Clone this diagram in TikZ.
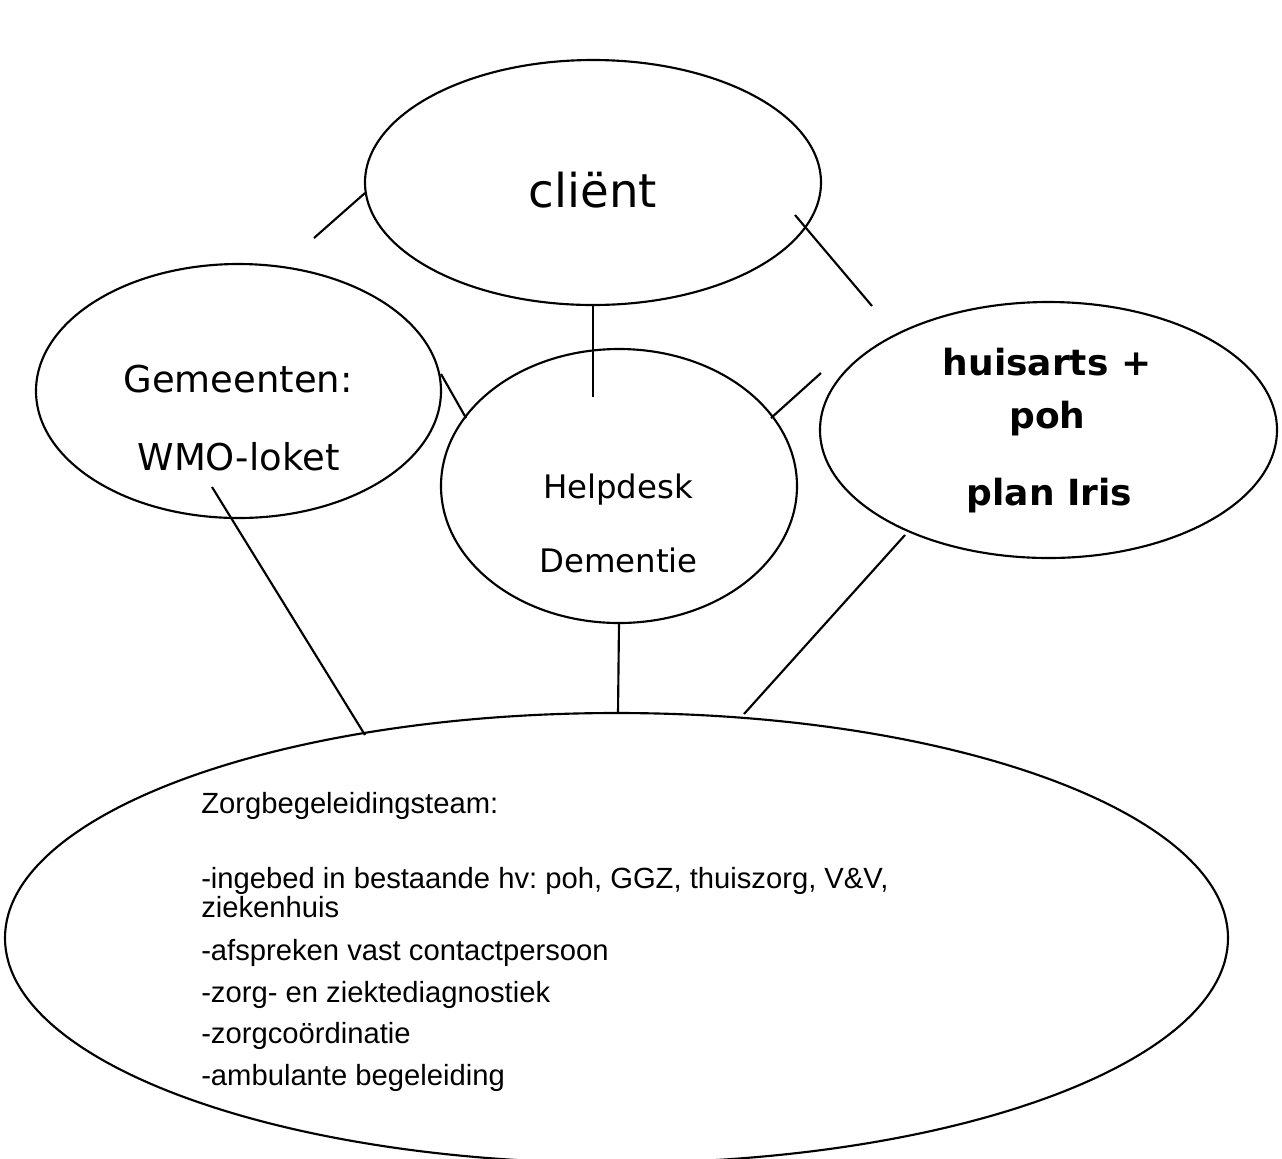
\documentclass[tikz,border=0pt]{standalone}
\usepackage{fontspec}
\setmainfont{DejaVu Sans}
\newfontfamily\arialf{Liberation Sans}
\usetikzlibrary{shapes.geometric}
\frenchspacing
\begin{document}
\begin{tikzpicture}[x=0.75pt,y=-0.75pt,
  oval/.style={draw, ellipse, inner sep=0pt, line width=1.6pt},
  lbl/.style={anchor=base, inner sep=0pt},
  lst/.style={anchor=base west, inner sep=0pt, font=\frenchspacing\arialf\fontsize{21.9}{26}\selectfont},
  link/.style={line width=1.6pt}]
\useasboundingbox (0,0) rectangle (1282,1158);
\clip (0,0) rectangle (1282,1158);
% ellipses
\node[oval, minimum width=456*0.75pt, minimum height=245*0.75pt] (client) at (593,182.5) {};
\node[oval, minimum width=405*0.75pt, minimum height=254*0.75pt] (gem) at (238.5,391) {};
\node[oval, minimum width=356*0.75pt, minimum height=274*0.75pt] (help) at (619,486) {};
\node[oval, minimum width=457*0.75pt, minimum height=256*0.75pt] (huis) at (1048.5,430) {};
\node[oval, minimum width=1223*0.75pt, minimum height=450*0.75pt] (zorg) at (616.5,938) {};
% labels
\node[lbl, font=\fontsize{35}{42}\selectfont] (tclient) at (593,207) {cliënt};
\node[lbl, font=\fontsize{27.7}{33}\selectfont] (tgem1) at (238,392) {Gemeenten:};
\node[lbl, font=\fontsize{27.7}{33}\selectfont] (tgem2) at (238.5,470) {WMO-loket};
\node[lbl, font=\fontsize{24.3}{29}\selectfont] (thelp1) at (618,498) {Helpdesk};
\node[lbl, font=\fontsize{24.3}{29}\selectfont] (thelp2) at (618.5,572) {Dementie};
\node[lbl, font=\bfseries\fontsize{27}{32}\selectfont] (thuis1) at (1047,375) {huisarts +};
\node[lbl, font=\bfseries\fontsize{27}{32}\selectfont] (thuis2) at (1047.5,428) {poh};
\node[lbl, font=\bfseries\fontsize{27}{32}\selectfont] (thuis3) at (1049.5,505) {plan Iris};
\node[lst] (z0) at (201,813) {Zorgbegeleidingsteam:};
\node[lst] (z1) at (201,888) {-ingebed in bestaande hv: poh, GGZ, thuiszorg, V\&V,};
\node[lst] (z2) at (201,917) {ziekenhuis};
\node[lst] (z3) at (201,960) {-afspreken vast contactpersoon};
\node[lst] (z4) at (201,1002) {-zorg- en ziektediagnostiek};
\node[lst] (z5) at (201,1043) {-zorgcoördinatie};
\node[lst] (z6) at (201,1085) {-ambulante begeleiding};
% connector end points
\coordinate (a1) at (314,238);  \coordinate (a2) at (365,193);
\coordinate (b1) at (795,215);  \coordinate (b2) at (872,306);
\coordinate (c1) at (593,305);  \coordinate (c2) at (593,397);
\coordinate (d1) at (441,374);  \coordinate (d2) at (466,418);
\coordinate (e1) at (771,418);  \coordinate (e2) at (821,373);
\coordinate (f1) at (212,487);  \coordinate (f2) at (365,735);
\coordinate (g1) at (619,623);  \coordinate (g2) at (618,713);
\coordinate (h1) at (905,535);  \coordinate (h2) at (744,714);
\draw[link] (a1) -- (a2);
\draw[link] (b1) -- (b2);
\draw[link] (c1) -- (c2);
\draw[link] (d1) -- (d2);
\draw[link] (e1) -- (e2);
\draw[link] (f1) -- (f2);
\draw[link] (g1) -- (g2);
\draw[link] (h1) -- (h2);
\end{tikzpicture}
\end{document}
